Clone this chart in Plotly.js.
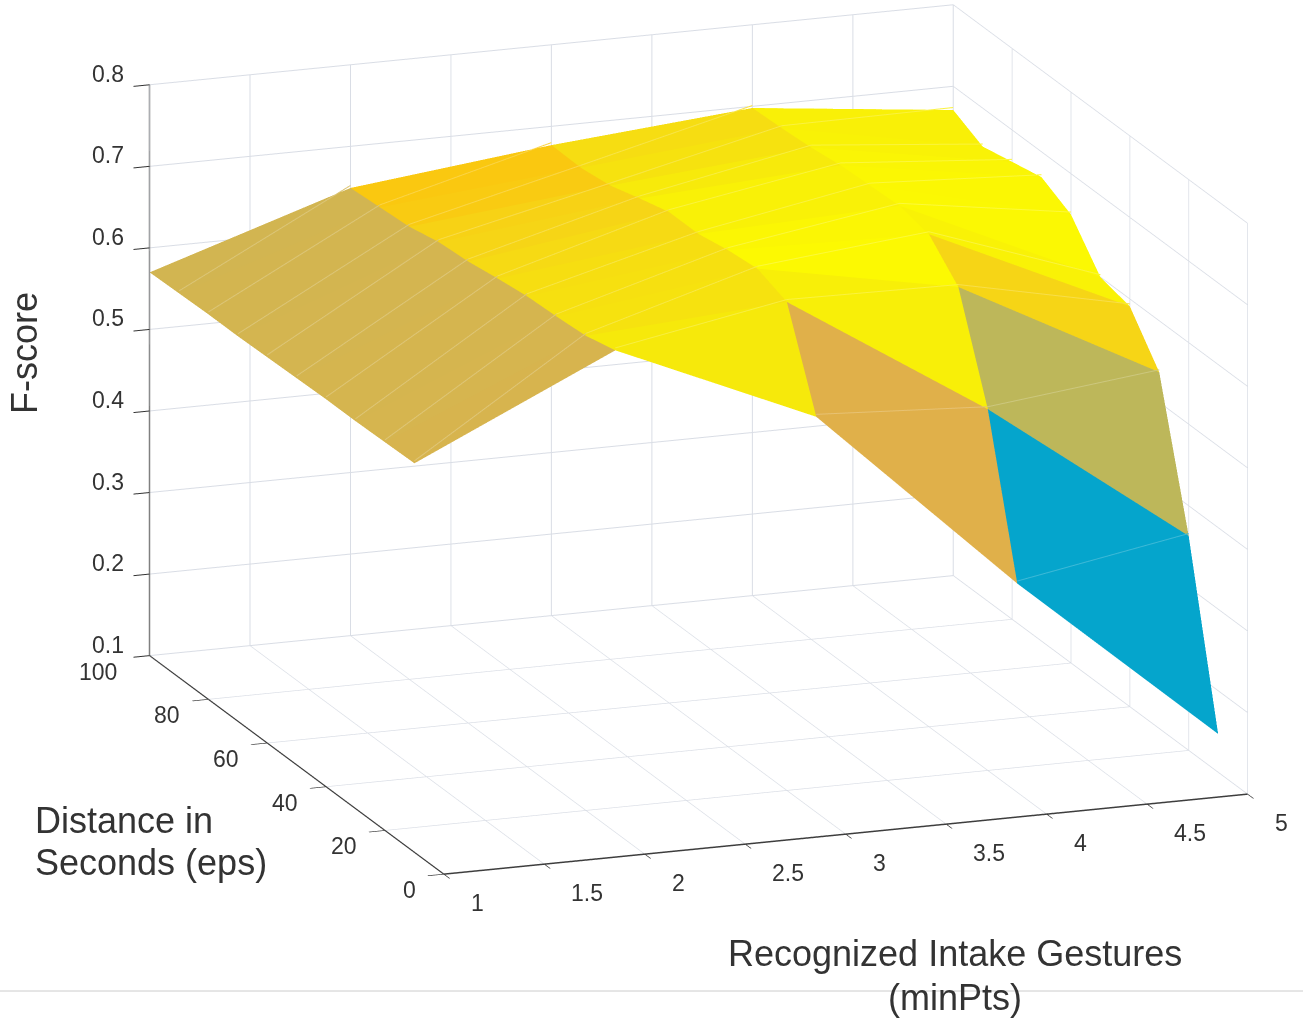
<!DOCTYPE html>
<html><head><meta charset="utf-8">
<script src="https://cdn.plot.ly/plotly-3.0.1.min.js"></script>
<style>html,body{margin:0;padding:0;background:#fff}#c{width:1303px;height:1019px}</style></head>
<body><div id="c"></div>
<script>
const minPts = [1,2,3,4,5];
const eps = [10,20,30,40,50,60,70,80,90,100];
// F-score rows: one row per eps, one value per minPts
const f10  = [.577,.691,.585,.356,.147];
const f20  = [.576,.682,.699,.543,.363];
const f30  = [.575,.679,.713,.666,.537];
const f40  = [.575,.677,.709,.704,.591];
const f50  = [.574,.672,.702,.712,.600];
const f60  = [.573,.666,.702,.710,.650];
const f70  = [.572,.663,.692,.708,.669];
const f80  = [.572,.655,.681,.703,.661];
const f90  = [.571,.652,.676,.700,.653];
const f100 = [.570,.649,.677,.698,.671];
const fscore = [f10,f20,f30,f40,f50,f60,f70,f80,f90,f100];
const xTicks=[1,1.5,2,2.5,3,3.5,4,4.5,5];
const yTicks=[0,20,40,60,80,100];
const zTicks=[.1,.2,.3,.4,.5,.6,.7,.8];

const zMin=.35, zMax=.72;
const stops = [[.356,'#05a5cc'],[.543,'#bdb75a'],[.577,'#d6b54f'],[.585,'#e0b04a'],[.649,'#fbc50f'],[.666,'#f6d516'],[.69,'#f6e80c'],[.72,'#fdfd00']];
const colorscale = [[0,'#05a5cc']].concat(stops.map(s=>[(s[0]-zMin)/(zMax-zMin),s[1]]));
const lighten=(hex,t)=>{const n=parseInt(hex.slice(1),16),ch=[n>>16,(n>>8)&255,n&255].map(v=>Math.round(v+(255-v)*t));return `rgb(${ch[0]},${ch[1]},${ch[2]})`;};
const seamScale=colorscale.map(s=>[s[0],lighten(s[1],.22)]);

const X=[],Y=[],Z=[],I=[],J=[],K=[],C=[];
eps.forEach((e,r)=>minPts.forEach((m,c)=>{X.push(m);Y.push(e);Z.push(fscore[r][c]);}));
const nc=minPts.length;
const sx=[],sy=[],sz=[],sc=[];
for(let r=0;r<eps.length-1;r++)for(let c=0;c<nc-1;c++){
  const a=r*nc+c,b=a+1,d=a+nc,e=d+1,v=fscore[r][c];
  I.push(a,a);J.push(b,e);K.push(e,d);
  C.push(v,v);
  sx.push(minPts[c],minPts[c+1],null);sy.push(eps[r],eps[r+1],null);sz.push(v+.003,fscore[r+1][c+1]+.003,null);sc.push(v,v,v);
}
const axis=(range,dtick,linecolor)=>({range,dtick,autorange:false,showbackground:false,showgrid:true,gridcolor:'#d9dde5',gridwidth:2,
  zeroline:false,showspikes:false,showline:true,linecolor,linewidth:3,ticks:'outside',ticklen:17,tickcolor:'#333',tickwidth:2,
  showticklabels:false,title:{text:''},mirror:false});
const tf={family:'Liberation Sans',size:36,color:'#333'};
const W=1303,H=1019;
const tickFont={family:'Liberation Sans',size:23,color:'#333'};
const lab=(x,y,z,text,xanchor,xshift,yshift)=>({x,y,z,text,xanchor,yanchor:'middle',xshift,yshift,showarrow:false,font:tickFont});
const sceneAnn=[
 ...zTicks.map(v=>lab(1,100,v,v.toFixed(1),'center',-42,11)),
 ...yTicks.map(v=>lab(1,v,.1,String(v),'right',v===100?-31:-26,-16)),
 ...xTicks.map(v=>lab(v,0,.1,String(v),'left',25,-29))];
const dir=[-.331,-.904,.272], dist=1.19, ctr={x:-.0996,y:-.0033,z:-.1323}, S=1.68;
const data=[{type:'mesh3d',x:X,y:Y,z:Z,i:I,j:J,k:K,intensity:C,intensitymode:'cell',colorscale,cmin:zMin,cmax:zMax,showscale:false,flatshading:true,
  lighting:{ambient:1,diffuse:0,specular:0,fresnel:0,roughness:1},hoverinfo:'skip'},
 {type:'scatter3d',mode:'lines',x:sx,y:sy,z:sz,line:{color:sc,colorscale:seamScale,cmin:zMin,cmax:zMax,showscale:false,width:2},hoverinfo:'skip',showlegend:false}];
const title=(x,y,text,xanchor)=>({xref:'paper',yref:'paper',x:x/W,y:1-y/H,xanchor,yanchor:'middle',text,showarrow:false,font:tf});
const layout={width:W,height:H,margin:{l:0,r:0,t:0,b:0},paper_bgcolor:'#fff',showlegend:false,
 scene:{domain:{x:[0,1],y:[0,1]},aspectmode:'manual',aspectratio:{x:S,y:S,z:.693*S},annotations:sceneAnn,
  camera:{projection:{type:'orthographic'},up:{x:0,y:0,z:1},center:ctr,eye:{x:ctr.x+dir[0]*dist,y:ctr.y+dir[1]*dist,z:ctr.z+dir[2]*dist}},
  xaxis:axis([1,5],.5,'#3d3d3d'),yaxis:axis([0,100],20,'#3d3d3d'),zaxis:axis([.1,.8],.1,'#808080')},
 shapes:[{type:'line',xref:'paper',yref:'paper',x0:0,x1:1,y0:1-991/H,y1:1-991/H,line:{color:'#cccccc',width:1}}],
 annotations:[
  Object.assign(title(25,353,'F-score','center'),{textangle:-90}),
  title(33,820,'Distance in','left'),
  title(33,862,'Seconds (eps)','left'),
  title(955,953,'Recognized Intake Gestures','center'),
  title(955,997,'(minPts)','center')]};
Plotly.newPlot('c',data,layout,{displayModeBar:false});
</script></body></html>
